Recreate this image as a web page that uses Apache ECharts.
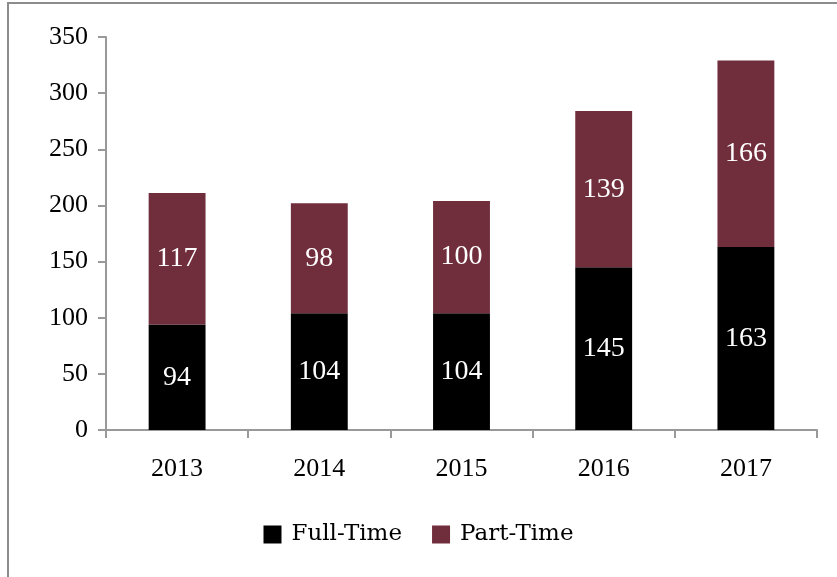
<!DOCTYPE html>
<html>
<head>
<meta charset="utf-8">
<script src="https://cdn.jsdelivr.net/npm/echarts@6/dist/echarts.min.js"></script>
<style>
    html, body { margin: 0; padding: 0; background: #fff; }
    #chart { width: 837px; height: 577px; }
</style>
</head>
<body>
<div id="chart"></div>
<script>
    var years = ['2013', '2014', '2015', '2016', '2017'];
    var fullTime = [94, 104, 104, 145, 163];
    var partTime = [117, 98, 100, 139, 166];
    var yTicks = { min: 0, max: 350, interval: 50 };

    var font = '"Liberation Serif", "DejaVu Serif", serif';
    var legendFont = '"DejaVu Serif", "Liberation Serif", serif';
    var chart = echarts.init(document.getElementById('chart'));

    chart.setOption({
        animation: false,
        textStyle: { fontFamily: font },
        grid: { left: 106, right: 20, top: 37, bottom: 147 },
        graphic: [{
            type: 'rect',
            shape: { x: 8, y: 3, width: 860, height: 600 },
            style: { fill: 'none', stroke: '#8c8c8c', lineWidth: 2 }
        }],
        legend: {
            bottom: 26,
            left: 'center',
            itemWidth: 18,
            itemHeight: 18,
            itemGap: 30,
            icon: 'rect',
            textStyle: { fontFamily: legendFont, fontSize: 23, color: '#000', padding: [0, 0, 0, 5] },
            data: ['Full-Time', 'Part-Time']
        },
        xAxis: {
            type: 'category',
            data: years,
            axisLine: { lineStyle: { color: '#999', width: 2 } },
            axisTick: { show: true, length: 8, lineStyle: { color: '#999', width: 2 } },
            axisLabel: { fontFamily: font, fontSize: 26, color: '#000', margin: 26 }
        },
        yAxis: {
            type: 'value',
            min: yTicks.min,
            max: yTicks.max,
            interval: yTicks.interval,
            splitLine: { show: false },
            axisLine: { show: true, lineStyle: { color: '#999', width: 2 } },
            axisTick: { show: true, length: 8, lineStyle: { color: '#999', width: 2 } },
            axisLabel: { fontFamily: font, fontSize: 26, color: '#000', margin: 18 }
        },
        series: [
            {
                name: 'Full-Time',
                type: 'bar',
                stack: 'total',
                barWidth: '40%',
                itemStyle: { color: '#000000' },
                label: { show: true, position: 'inside', color: '#fff', fontFamily: font, fontSize: 28 },
                data: fullTime
            },
            {
                name: 'Part-Time',
                type: 'bar',
                stack: 'total',
                barWidth: '40%',
                itemStyle: { color: '#702d3c' },
                label: { show: true, position: 'inside', color: '#fff', fontFamily: font, fontSize: 28 },
                data: partTime
            }
        ]
    });
</script>
</body>
</html>
